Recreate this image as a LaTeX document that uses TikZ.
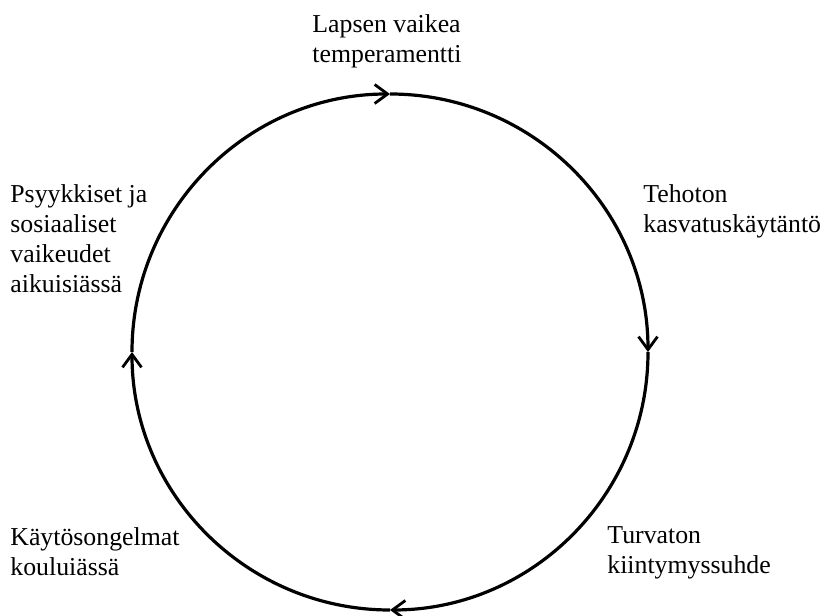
\documentclass[tikz,border=0pt]{standalone}
\usepackage{fontspec}
\setmainfont{Liberation Serif}
\usetikzlibrary{arrows.meta}
\tikzset{
  lbl/.style={anchor=base west, align=left, inner sep=0mm,
    font=\fontsize{12.9}{15}\selectfont
  },
  cyc/.style={line width=1.6pt,
    -{Straight Barb[length=6.5pt,width=9.5pt,line width=1.4pt]}
  }
}

\begin{document}
\begin{tikzpicture}[x=0.5pt,y=0.5pt]
 \useasboundingbox (0,0) rectangle (820,616);
 \coordinate (c) at (390,264);

 \node[lbl] (temp) at (312,553) {Lapsen vaikea\\temperamentti};
 \node[lbl] (kasv) at (643,383) {Tehoton\\kasvatuskäytäntö};
 \node[lbl] (kiint) at (607,42) {Turvaton\\kiintymyssuhde};
 \node[lbl] (koulu) at (10,40) {Käytösongelmat\\kouluiässä};
 \node[lbl] (aikuis) at (10,323) {Psyykkiset ja\\sosiaaliset\\vaikeudet\\aikuisiässä};

 % kierre myötäpäivään
 \draw[cyc] ([shift={(90:129pt)}]c) arc (90:0:129pt);
 \draw[cyc] ([shift={(0:129pt)}]c) arc (0:-90:129pt);
 \draw[cyc] ([shift={(-90:129pt)}]c) arc (-90:-180:129pt);
 \draw[cyc] ([shift={(180:129pt)}]c) arc (180:90:129pt);
\end{tikzpicture}
\end{document}
